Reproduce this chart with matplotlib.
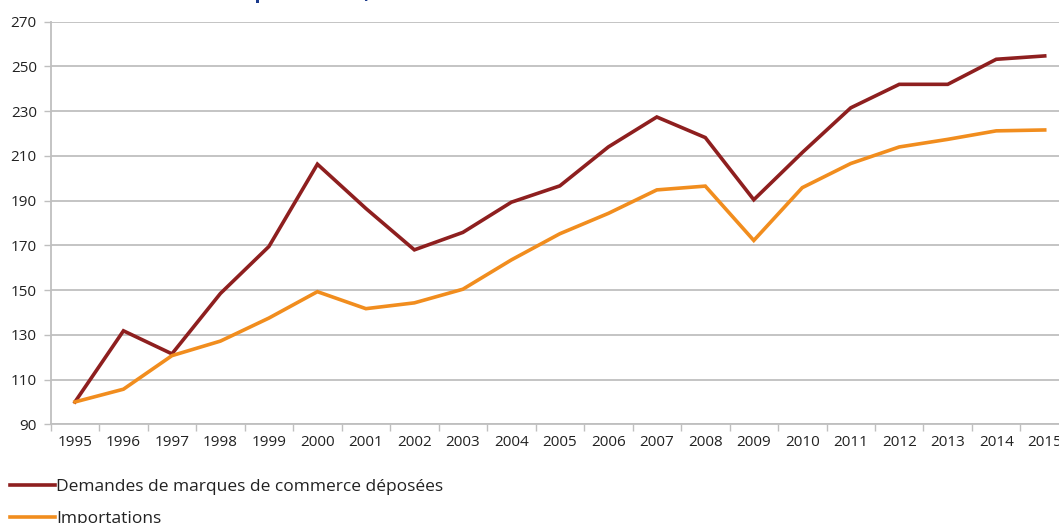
import numpy as np
import matplotlib
matplotlib.use("Agg")
import matplotlib.pyplot as plt

plt.rcParams['font.family'] = ['Open Sans', 'DejaVu Sans']

# indices, base 100 en 1995
annees = [str(a) for a in range(1995, 2016)]
demandes_marques = [100, 131.8, 121.5, 148.5, 169.5, 206.3, 186.5, 168.0, 175.8, 189.3,
                    196.6, 214.0, 227.4, 218.2, 190.4, 211.5, 231.5, 242.0, 242.0, 253.2, 254.7]
importations = [100, 105.7, 120.7, 127.2, 137.5, 149.3, 141.7, 144.3, 150.4, 163.5,
                175.2, 184.3, 194.8, 196.5, 172.2, 195.8, 206.6, 214.0, 217.4, 221.2, 221.6]
noms_series = ['Demandes de marques de commerce déposées', 'Importations']
yticks = list(range(90, 271, 20))

rouge = '#8E1F1F'
orange = '#F18D1E'
gris = '#BFBFBF'

fig = plt.figure(figsize=(10.59, 5.23), dpi=100)
ax = fig.add_axes([0.0479, 0.1887, 0.9615, 0.7698])

x = np.arange(len(annees))
l1, = ax.plot(x, demandes_marques, color=rouge, lw=2.6, solid_joinstyle='miter')
l2, = ax.plot(x, importations, color=orange, lw=2.6, solid_joinstyle='miter')

ax.set_xlim(-0.5, len(annees) - 0.5)
ax.set_ylim(90, 270)
ax.set_yticks(yticks)
ax.set_yticklabels([str(v) for v in yticks])
ax.yaxis.grid(True, color=gris, lw=1.3)
ax.set_axisbelow(True)

# graduations aux limites des categories, etiquettes au centre
ax.set_xticks(np.arange(len(annees) + 1) - 0.5)
ax.set_xticklabels([])
ax.set_xticks(x, minor=True)
ax.set_xticklabels(annees, minor=True)
ax.tick_params(axis='x', which='major', length=5, color=gris, width=1)
ax.tick_params(axis='x', which='minor', length=0, pad=8, labelsize=11, labelcolor='#222222')
ax.tick_params(axis='y', length=5, color=gris, width=1, pad=5, labelsize=11, labelcolor='#222222')

for s in ['top', 'right']:
    ax.spines[s].set_visible(False)
for s in ['left', 'bottom']:
    ax.spines[s].set_color(gris)
    ax.spines[s].set_linewidth(1.3)

# titre coupe en haut : seules les jambes des lettres depassent
fig.text(0.2145, 1.0035, 'Importations, 1995 = 100', color='#1B3A8C', fontsize=15,
         fontweight='bold', va='baseline', ha='left')

fig.legend([l1, l2], noms_series, loc='upper left', bbox_to_anchor=(0.009, 0.084),
           frameon=False, fontsize=12.5, handlelength=2.6, handletextpad=0.1,
           labelspacing=0.88, borderaxespad=0, borderpad=0, labelcolor='#222222')

fig.savefig('out.png', dpi=100)
